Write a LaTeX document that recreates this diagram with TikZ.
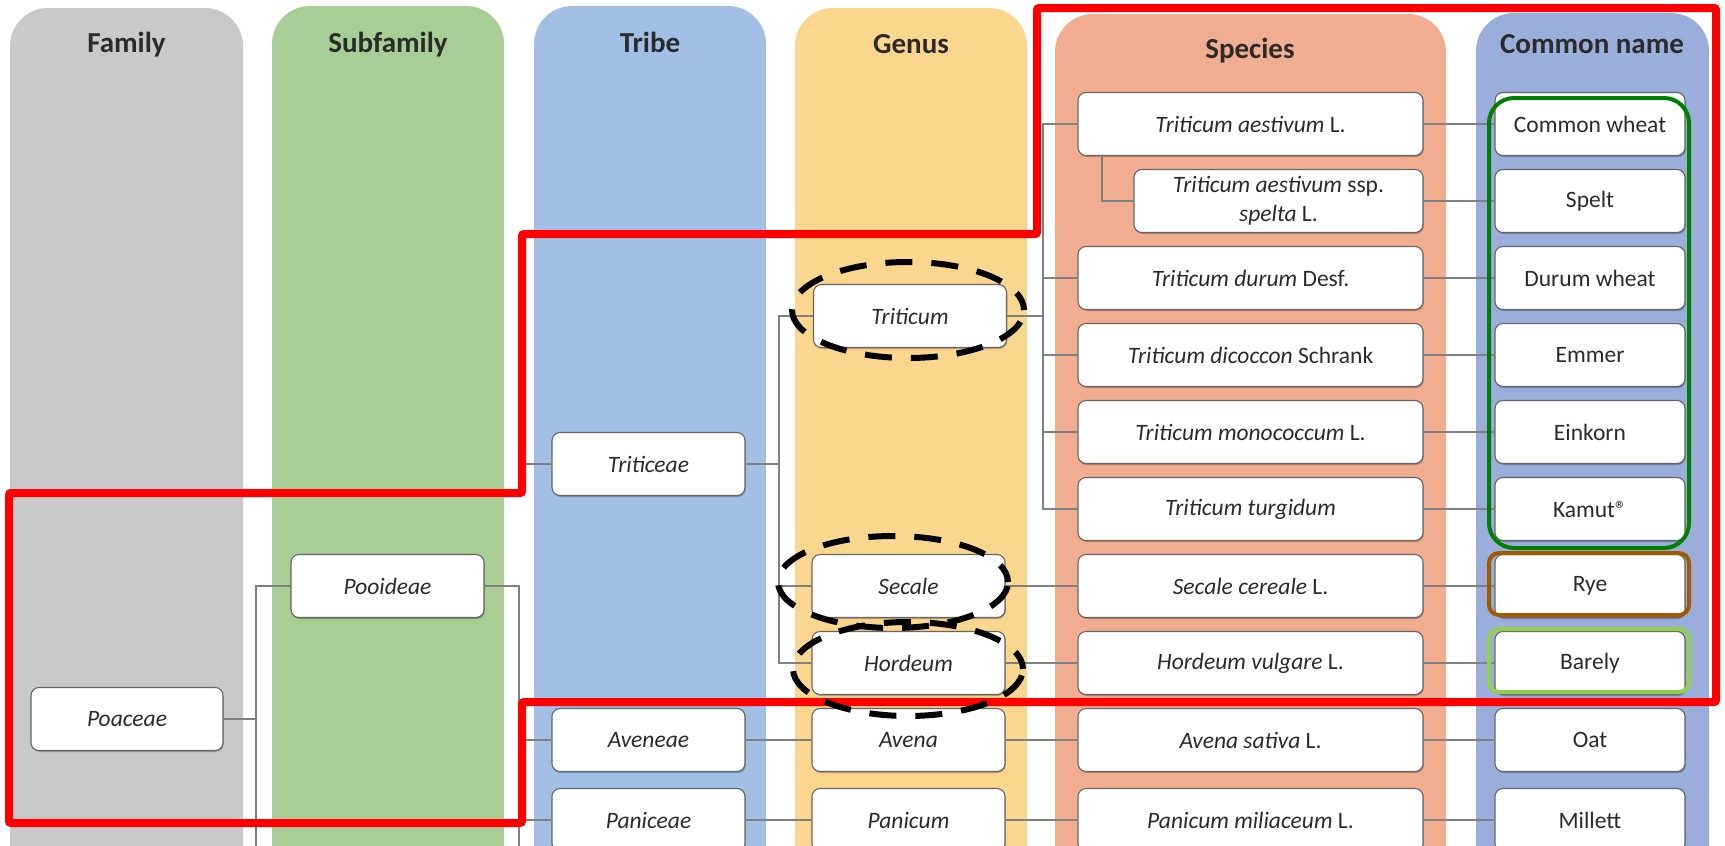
\documentclass[tikz,border=0pt]{standalone}
\usepackage{fontspec}
\setmainfont{Carlito}
\usetikzlibrary{shadows}
\definecolor{famc}{HTML}{C9C9C9}
\definecolor{subc}{HTML}{A9CE95}
\definecolor{tribc}{HTML}{A2C0E6}
\definecolor{genc}{HTML}{FBD68F}
\definecolor{specc}{HTML}{F1AD90}
\definecolor{comc}{HTML}{9AADDB}
\definecolor{linec}{HTML}{808080}
\definecolor{boxc}{HTML}{666666}
\definecolor{txtc}{HTML}{2B2B2B}
\definecolor{hgreen}{HTML}{008000}
\definecolor{hbrown}{HTML}{A05A00}
\definecolor{hlight}{HTML}{92D050}
\tikzset{
  column/.style={rounded corners=38pt},
  header/.style={anchor=base, text=txtc, font=\fontsize{29}{34}\selectfont\bfseries},
  taxbox/.style={draw=boxc, line width=1.1pt, fill=white, rounded corners=8pt,
    minimum height=63pt, inner sep=0pt, align=center, text=txtc,
    font=\fontsize{23.5}{29}\selectfont,
    drop shadow={shadow xshift=0.8pt, shadow yshift=-1.5pt, opacity=0.25, fill=black}},
  famw/.style={taxbox, minimum width=192pt},
  genw/.style={taxbox, minimum width=193pt},
  specw/.style={taxbox, minimum width=345pt},
  spltw/.style={taxbox, minimum width=289pt},
  comw/.style={taxbox, minimum width=190pt},
  conn/.style={draw=linec, line width=1.1pt},
  redline/.style={draw=red, line width=8pt, rounded corners=2pt},
  ringline/.style={draw=black, line width=6pt, dash pattern=on 27pt off 19pt, dash phase=8pt},
  hilite/.style={line width=4pt}
}
\begin{document}
\begin{tikzpicture}[x=1pt, y=-1pt]
\useasboundingbox (0,0) rectangle (1725,846);
\clip (0,0) rectangle (1725,846);
\fill[white] (0,0) rectangle (1725,846);
% columns
\fill[famc, column] (10,8) rectangle (243,920);
\fill[subc, column] (272,6) rectangle (504,920);
\fill[tribc, column] (534,6) rectangle (766,920);
\fill[genc, column] (795,8) rectangle (1027,920);
\fill[specc, column] (1055,14) rectangle (1446,920);
\fill[comc, column] (1476,13) rectangle (1709,920);
% headers
\node[header] (hfam) at (126.5,52) {Family};
\node[header] (hsub) at (388,52) {Subfamily};
\node[header] (htri) at (650,52) {Tribe};
\node[header] (hgen) at (911,53) {Genus};
\node[header] (hspe) at (1250,58) {Species};
\node[header] (hcom) at (1592,53) {Common name};
% taxa boxes
\node[famw] (poaceae) at (127,719) {\textit{Poaceae}};
\node[genw] (pooideae) at (387.5,586) {\textit{Pooideae}};
\node[genw] (triticeae) at (648.5,464) {\textit{Triticeae}};
\node[genw] (aveneae) at (648.5,740) {\textit{Aveneae}};
\node[genw] (paniceae) at (648.5,820) {\textit{Paniceae}};
\node[genw] (triticum) at (910,316) {\textit{Triticum}};
\node[genw] (secale) at (908.5,586) {\textit{Secale}};
\node[genw] (hordeum) at (908.5,663) {\textit{Hordeum}};
\node[genw] (avena) at (908.5,740) {\textit{Avena}};
\node[genw] (panicum) at (908.5,820) {\textit{Panicum}};
\node[specw] (taest) at (1250.5,124) {\textit{Triticum aestivum} L.};
\node[spltw] (spelt) at (1278.5,201) {\textit{Triticum aestivum} ssp.\\\textit{spelta} L.};
\node[specw] (tdur) at (1250.5,278) {\textit{Triticum durum} Desf.};
\node[specw] (tdic) at (1250.5,355) {\textit{Triticum dicoccon} Schrank};
\node[specw] (tmon) at (1250.5,432) {\textit{Triticum monococcum} L.};
\node[specw] (ttur) at (1250.5,509) {\textit{Triticum turgidum}};
\node[specw] (scer) at (1250.5,586) {\textit{Secale cereale} L.};
\node[specw] (hvul) at (1250.5,663) {\textit{Hordeum vulgare} L.};
\node[specw] (asat) at (1250.5,740) {\textit{Avena sativa} L.};
\node[specw] (pmil) at (1250.5,820) {\textit{Panicum miliaceum} L.};
\node[comw] (cwheat) at (1590,124) {Common wheat};
\node[comw] (cspelt) at (1590,201) {Spelt};
\node[comw] (cdurum) at (1590,278) {Durum wheat};
\node[comw] (cemmer) at (1590,355) {Emmer};
\node[comw] (ceink) at (1590,432) {Einkorn};
\node[comw] (ckamut) at (1590,509) {Kamut®};
\node[comw] (crye) at (1590,586) {Rye};
\node[comw] (cbar) at (1590,663) {Barely};
\node[comw] (coat) at (1590,740) {Oat};
\node[comw] (cmil) at (1590,820) {Millett};
% junction coordinates
\coordinate (j1) at (256,880);
\coordinate (j2) at (519,880);
\coordinate (j3) at (779,0);
\coordinate (j4) at (1043,0);
\coordinate (j5) at (1102,0);
% connectors
\draw[conn] (poaceae.east) -- (poaceae.east -| j1);
\draw[conn] (pooideae.west) -| (j1);
\draw[conn] (pooideae.east) -| (j2);
\draw[conn] (triticeae.west) -- (triticeae.west -| j2);
\draw[conn] (aveneae.west) -- (aveneae.west -| j2);
\draw[conn] (paniceae.west) -- (paniceae.west -| j2);
\draw[conn] (triticeae.east) -- (triticeae.east -| j3);
\draw[conn] (triticum.west) -| (j3 |- hordeum.west) -- (hordeum.west);
\draw[conn] (secale.west) -- (secale.west -| j3);
\draw[conn] (aveneae.east) -- (avena.west);
\draw[conn] (paniceae.east) -- (panicum.west);
\draw[conn] (triticum.east) -- (triticum.east -| j4);
\draw[conn] (taest.west) -| (j4 |- ttur.west) -- (ttur.west);
\draw[conn] (tdur.west) -- (tdur.west -| j4);
\draw[conn] (tdic.west) -- (tdic.west -| j4);
\draw[conn] (tmon.west) -- (tmon.west -| j4);
\draw[conn] (j5 |- taest.south) |- (spelt.west);
\draw[conn] (secale.east) -- (scer.west);
\draw[conn] (hordeum.east) -- (hvul.west);
\draw[conn] (avena.east) -- (asat.west);
\draw[conn] (panicum.east) -- (pmil.west);
\draw[conn] (taest.east) -- (cwheat.west);
\draw[conn] (spelt.east) -- (cspelt.west);
\draw[conn] (tdur.east) -- (cdurum.west);
\draw[conn] (tdic.east) -- (cemmer.west);
\draw[conn] (tmon.east) -- (ceink.west);
\draw[conn] (ttur.east) -- (ckamut.west);
\draw[conn] (scer.east) -- (crye.west);
\draw[conn] (hvul.east) -- (cbar.west);
\draw[conn] (asat.east) -- (coat.west);
\draw[conn] (pmil.east) -- (cmil.west);
% highlight frames
\draw[hilite, hgreen, rounded corners=25pt] (1489,98) rectangle (1689,548);
\draw[hilite, hbrown, rounded corners=10pt] (1489,553) rectangle (1689,615);
\draw[hilite, hlight, rounded corners=10pt] (1489,629) rectangle (1689,692);
% red outline
\draw[redline] (1037,8) -- (1716,8) -- (1716,702) -- (522,702) -- (522,823) -- (9,823)
  -- (9,493) -- (522,493) -- (522,234) -- (1037,234) -- cycle;
% dashed rings
\draw[ringline] (908,310) ellipse [x radius=116pt, y radius=48pt];
\draw[ringline] (893,582) ellipse [x radius=115pt, y radius=46pt];
\draw[ringline] (908,669) ellipse [x radius=115pt, y radius=47pt];
\end{tikzpicture}
\end{document}
